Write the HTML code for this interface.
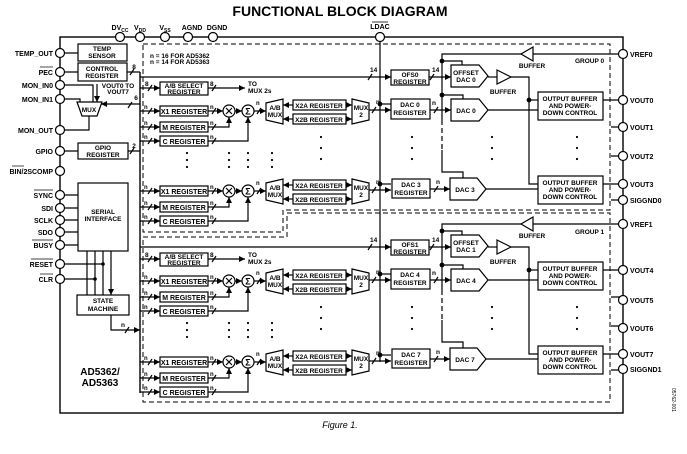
<!DOCTYPE html>
<html><head><meta charset="utf-8"><style>
html,body{margin:0;padding:0;background:#fff;}
svg{display:block;font-family:"Liberation Sans",sans-serif;font-weight:bold;}
</style></head><body>
<svg width="687" height="454" viewBox="0 0 687 454" xmlns="http://www.w3.org/2000/svg">
<defs>
<marker id="a" viewBox="0 0 6 6" refX="6" refY="3" markerWidth="5" markerHeight="5" orient="auto"><path d="M0,0L6,3L0,6z" fill="#000"/></marker>
<g id="row" stroke="#000" stroke-width="1.2" fill="none">
  <line x1="140" y1="111" x2="160" y2="111" marker-end="url(#a)"/>
  <line x1="140" y1="127" x2="160" y2="127" marker-end="url(#a)"/>
  <line x1="140" y1="141" x2="160" y2="141" marker-end="url(#a)"/>
  <path d="M148,114l4,-6M148,130l4,-6M148,144l4,-6"/>
  <rect x="160" y="106" width="48" height="10" fill="#fff"/>
  <rect x="160" y="122" width="48" height="10" fill="#fff"/>
  <rect x="160" y="136" width="48" height="10" fill="#fff"/>
  <line x1="208" y1="111" x2="223" y2="111" marker-end="url(#a)"/>
  <path d="M212,114l4,-6M212,130l4,-6M212,144l4,-6"/>
  <path d="M208,127H229V117" marker-end="url(#a)"/>
  <path d="M208,141H248V117" marker-end="url(#a)"/>
  <circle cx="229" cy="111" r="6" fill="#fff"/>
  <path d="M226,108l6,6M232,108l-6,6"/>
  <line x1="235" y1="111" x2="242" y2="111" marker-end="url(#a)"/>
  <circle cx="248" cy="111" r="6" fill="#fff"/>
  <line x1="254" y1="111" x2="266" y2="111" marker-end="url(#a)"/>
  <path d="M257,114l4,-6"/>
  <path d="M266,103L283,99V124L266,120z" fill="#fff"/>
  <line x1="293" y1="105" x2="283" y2="105" marker-end="url(#a)"/>
  <line x1="293" y1="119" x2="283" y2="119" marker-end="url(#a)"/>
  <rect x="293" y="100" width="53" height="10" fill="#fff"/>
  <rect x="293" y="114" width="53" height="10" fill="#fff"/>
  <line x1="346" y1="105" x2="352" y2="105" marker-end="url(#a)"/>
  <line x1="346" y1="119" x2="352" y2="119" marker-end="url(#a)"/>
  <path d="M352,99L369,103V120L352,124z" fill="#fff"/>
  <line x1="369" y1="110" x2="391" y2="110" marker-end="url(#a)"/>
  <path d="M372,113l4,-6"/>
  <line x1="380" y1="104" x2="391" y2="104"/>
  <circle cx="380" cy="104" r="1.8" fill="#000"/>
  <g stroke="none" fill="#000" font-size="7">
    <text x="184" y="114" text-anchor="middle">X1 REGISTER</text>
    <text x="184" y="130" text-anchor="middle">M REGISTER</text>
    <text x="184" y="144" text-anchor="middle">C REGISTER</text>
    <text x="248" y="114.5" text-anchor="middle" font-size="9">Σ</text>
    <text x="319" y="108" text-anchor="middle" font-size="6.5">X2A REGISTER</text>
    <text x="319" y="122" text-anchor="middle" font-size="6.5">X2B REGISTER</text>
    <text x="275" y="110" text-anchor="middle" font-size="6.5">A/B</text>
    <text x="275" y="117" text-anchor="middle" font-size="6.5">MUX</text>
    <text x="361" y="110" text-anchor="middle" font-size="6.5">MUX</text>
    <text x="361" y="117" text-anchor="middle" font-size="6.5">2</text>
    <text x="144" y="109" font-size="6">n</text><text x="144" y="125" font-size="6">n</text><text x="144" y="139" font-size="6">n</text>
    <text x="210" y="109" font-size="6">n</text><text x="210" y="125" font-size="6">n</text><text x="210" y="139" font-size="6">n</text>
    <text x="256" y="105" font-size="6">n</text><text x="376" y="104" font-size="6">n</text>
  </g>
</g>
<g id="abs" stroke="#000" stroke-width="1.2" fill="none">
  <line x1="140" y1="88" x2="160" y2="88" marker-end="url(#a)"/>
  <path d="M148,91l4,-6M212,91l4,-6"/>
  <rect x="160" y="82" width="48" height="13" fill="#fff"/>
  <line x1="208" y1="88" x2="245" y2="88" marker-end="url(#a)"/>
  <g stroke="none" fill="#000" font-size="6.5">
    <text x="184" y="88" text-anchor="middle">A/B SELECT</text>
    <text x="184" y="94" text-anchor="middle">REGISTER</text>
    <text x="145" y="86">8</text><text x="210" y="86">8</text>
    <text x="248" y="86">TO</text><text x="248" y="93">MUX 2s</text>
  </g>
</g>
<g id="grp" stroke="#000" stroke-width="1.2" fill="none">
  <line x1="140" y1="77" x2="391" y2="77" marker-end="url(#a)"/>
  <path d="M368,80l4,-6M430,80l4,-6"/>
  <rect x="391" y="70" width="38" height="15" fill="#fff"/>
  <line x1="429" y1="77" x2="451" y2="77" marker-end="url(#a)"/>
  <path d="M451,65H479L488,76L479,87H451z" fill="#fff"/>
  <path d="M497,70L511,77L497,84z" fill="#fff"/>
  <line x1="488" y1="77" x2="497" y2="77"/>
  <path d="M511,77H529V184H538"/>
  <line x1="529" y1="100" x2="538" y2="100"/>
  <circle cx="529" cy="100" r="1.8" fill="#000"/>
  <rect x="391" y="99" width="39" height="20" fill="#fff"/>
  <line x1="430" y1="110" x2="451" y2="110" marker-end="url(#a)"/>
  <path d="M434,113l4,-6"/>
  <path d="M451,99H479L488,110L479,121H451z" fill="#fff"/>
  <line x1="488" y1="110" x2="538" y2="110"/>
  <path d="M623,54H533"/>
  <path d="M533,47L521,54L533,61z" fill="#fff"/>
  <path d="M521,54H442V120M442,150V172H463V178M442,61H462V65M442,95H463V99"/>
  <path d="M442,120V150" stroke-dasharray="5,3"/>
  <circle cx="442" cy="61" r="1.8" fill="#000"/><circle cx="442" cy="95" r="1.8" fill="#000"/>
  <rect x="538" y="92" width="65" height="28" fill="#fff"/>
  <rect x="538" y="176" width="65" height="28" fill="#fff"/>
  <line x1="603" y1="100" x2="623" y2="100"/>
  <line x1="603" y1="184" x2="623" y2="184"/>
  <path d="M611,127H623M611,156H623M611,200H623"/>
  <rect x="392" y="179" width="38" height="19" fill="#fff"/>
  <line x1="430" y1="189" x2="450" y2="189" marker-end="url(#a)"/>
  <path d="M434,192l4,-6"/>
  <path d="M450,178H477L486,189L477,200H450z" fill="#fff"/>
  <line x1="486" y1="189" x2="538" y2="189"/>
  <g stroke="none" fill="#000" font-size="6.5">
    <text x="570" y="101" text-anchor="middle">OUTPUT BUFFER</text>
    <text x="570" y="108" text-anchor="middle">AND POWER-</text>
    <text x="570" y="115" text-anchor="middle">DOWN CONTROL</text>
    <text x="570" y="185" text-anchor="middle">OUTPUT BUFFER</text>
    <text x="570" y="192" text-anchor="middle">AND POWER-</text>
    <text x="570" y="199" text-anchor="middle">DOWN CONTROL</text>
    <text x="503" y="94" text-anchor="middle">BUFFER</text>
    <text x="532" y="68" text-anchor="middle">BUFFER</text>
    <text x="370" y="72">14</text><text x="432" y="72">14</text>
    <text x="432" y="105">n</text><text x="436" y="184">n</text>
  </g>
  <g stroke="none" fill="#000">
    <circle cx="412" cy="137" r="1.1"/><circle cx="412" cy="148" r="1.1"/><circle cx="412" cy="159" r="1.1"/>
    <circle cx="492" cy="137" r="1.1"/><circle cx="492" cy="148" r="1.1"/><circle cx="492" cy="159" r="1.1"/>
    <circle cx="577" cy="137" r="1.1"/><circle cx="577" cy="148" r="1.1"/><circle cx="577" cy="159" r="1.1"/>
    <circle cx="321" cy="137" r="1.1"/><circle cx="321" cy="148" r="1.1"/><circle cx="321" cy="159" r="1.1"/>
    <circle cx="187" cy="153" r="1.1"/><circle cx="187" cy="160" r="1.1"/><circle cx="187" cy="167" r="1.1"/>
    <circle cx="229" cy="153" r="1.1"/><circle cx="229" cy="160" r="1.1"/><circle cx="229" cy="167" r="1.1"/>
    <circle cx="248" cy="153" r="1.1"/><circle cx="248" cy="160" r="1.1"/><circle cx="248" cy="167" r="1.1"/>
    <circle cx="272" cy="153" r="1.1"/><circle cx="272" cy="160" r="1.1"/><circle cx="272" cy="167" r="1.1"/>
  </g>
</g>
</defs>

<text x="340" y="16" text-anchor="middle" font-size="14">FUNCTIONAL BLOCK DIAGRAM</text>

<!-- outer box -->
<rect x="60" y="37" width="563" height="376" fill="none" stroke="#000" stroke-width="1.4"/>
<!-- dashed groups -->
<g fill="none" stroke="#000" stroke-width="1" stroke-dasharray="5,3">
<path d="M143,44H610V210H283V232H143z"/>
<path d="M287,213H610V402H143V237H287z"/>
</g>
<!-- main bus -->
<line x1="140" y1="72" x2="140" y2="393" stroke="#000" stroke-width="1.4"/>
<line x1="380" y1="37" x2="380" y2="362" stroke="#000" stroke-width="1.2"/>

<use href="#abs"/>
<use href="#abs" transform="translate(0,171)"/>
<use href="#row"/>
<use href="#row" transform="translate(0,80)"/>
<use href="#row" transform="translate(0,170)"/>
<use href="#row" transform="translate(0,251)"/>
<use href="#grp"/>
<use href="#grp" transform="translate(0,170)"/>

<g font-size="6.5" text-anchor="middle">
<text x="410" y="77">OFS0</text><text x="410" y="84">REGISTER</text>
<text x="410" y="247">OFS1</text><text x="410" y="254">REGISTER</text>
<text x="466" y="75">OFFSET</text><text x="466" y="82">DAC 0</text>
<text x="466" y="245">OFFSET</text><text x="466" y="252">DAC 1</text>
<text x="410" y="107">DAC 0</text><text x="410" y="115">REGISTER</text>
<text x="410" y="277">DAC 4</text><text x="410" y="285">REGISTER</text>
<text x="411" y="187">DAC 3</text><text x="411" y="195">REGISTER</text>
<text x="411" y="357">DAC 7</text><text x="411" y="365">REGISTER</text>
<text x="466" y="113">DAC 0</text><text x="466" y="283">DAC 4</text>
<text x="465" y="192">DAC 3</text><text x="465" y="362">DAC 7</text>
</g>
<g font-size="6.5">
<text x="150" y="58">n = 16 FOR AD5362</text>
<text x="150" y="64">n = 14 FOR AD5363</text>
<text x="575" y="63">GROUP 0</text>
<text x="575" y="234">GROUP 1</text>
</g>

<!-- top pins -->
<g fill="#fff" stroke="#000" stroke-width="1.2">
<circle cx="120" cy="37" r="4.5"/><circle cx="140" cy="37" r="4.5"/><circle cx="165" cy="37" r="4.5"/>
<circle cx="188" cy="37" r="4.5"/><circle cx="213" cy="37" r="4.5"/><circle cx="380" cy="37" r="4.5"/>
</g>
<g font-size="7" text-anchor="middle">
<text x="120" y="30">DV<tspan font-size="5" dy="2">CC</tspan></text>
<text x="140" y="30">V<tspan font-size="5" dy="2">DD</tspan></text>
<text x="165" y="30">V<tspan font-size="5" dy="2">SS</tspan></text>
<text x="192" y="30">AGND</text><text x="217" y="30">DGND</text>
<text x="380" y="29">LDAC</text>
</g>
<line x1="372" y1="22" x2="388" y2="22" stroke="#000" stroke-width="0.8"/>

<!-- right pins -->
<g fill="#fff" stroke="#000" stroke-width="1.2">
<circle cx="623" cy="54" r="4.5"/><circle cx="623" cy="100" r="4.5"/><circle cx="623" cy="127" r="4.5"/>
<circle cx="623" cy="156" r="4.5"/><circle cx="623" cy="184" r="4.5"/><circle cx="623" cy="200" r="4.5"/>
<circle cx="623" cy="224" r="4.5"/><circle cx="623" cy="270" r="4.5"/><circle cx="623" cy="300" r="4.5"/>
<circle cx="623" cy="328" r="4.5"/><circle cx="623" cy="354" r="4.5"/><circle cx="623" cy="369" r="4.5"/>
</g>
<g font-size="7">
<text x="630" y="57">VREF0</text><text x="630" y="103">VOUT0</text><text x="630" y="130">VOUT1</text>
<text x="630" y="159">VOUT2</text><text x="630" y="187">VOUT3</text><text x="630" y="203">SIGGND0</text>
<text x="630" y="227">VREF1</text><text x="630" y="273">VOUT4</text><text x="630" y="303">VOUT5</text>
<text x="630" y="331">VOUT6</text><text x="630" y="357">VOUT7</text><text x="630" y="372">SIGGND1</text>
</g>

<!-- left side -->
<g fill="none" stroke="#000" stroke-width="1.2">
<path d="M60,53H78M60,72H78M60,85H93V102M60,99H80V102M89,116V130H60M60,151H78"/>
<path d="M60,195H78M60,208H78M60,220H78M60,232H78M60,245H78M60,264H103M60,279H95"/>
<path d="M87,251V295M95,251V295M103,251V295"/>
<path d="M111,251V295" marker-end="url(#a)"/>
<path d="M111,315V330H140" marker-end="url(#a)"/>
<path d="M125,333l4,-6M130,75l4,-6M130,154l4,-6M128,108l4,-6"/>
<line x1="140" y1="104" x2="101" y2="104" marker-end="url(#a)"/>
<path d="M97,84V102" marker-end="url(#a)"/>
<path d="M127,72H140M128,151H140"/>
<rect x="78" y="44" width="49" height="17" fill="#fff"/>
<rect x="78" y="63" width="49" height="18" fill="#fff"/>
<rect x="78" y="143" width="50" height="16" fill="#fff"/>
<rect x="78" y="183" width="50" height="68" fill="#fff"/>
<rect x="77" y="295" width="52" height="20" fill="#fff"/>
<path d="M77,102H102L97,116H82z" fill="#fff"/>
</g>
<circle cx="103" cy="264" r="1.8"/><circle cx="95" cy="279" r="1.8"/>
<g fill="#fff" stroke="#000" stroke-width="1.2">
<circle cx="60" cy="53" r="4.5"/><circle cx="60" cy="72" r="4.5"/><circle cx="60" cy="85" r="4.5"/>
<circle cx="60" cy="99" r="4.5"/><circle cx="60" cy="130" r="4.5"/><circle cx="60" cy="151" r="4.5"/>
<circle cx="60" cy="171" r="4.5"/><circle cx="60" cy="195" r="4.5"/><circle cx="60" cy="208" r="4.5"/>
<circle cx="60" cy="220" r="4.5"/><circle cx="60" cy="232" r="4.5"/><circle cx="60" cy="245" r="4.5"/>
<circle cx="60" cy="264" r="4.5"/><circle cx="60" cy="279" r="4.5"/>
</g>
<g font-size="7" text-anchor="end">
<text x="53" y="56">TEMP_OUT</text><text x="53" y="75">PEC</text><text x="53" y="88">MON_IN0</text>
<text x="53" y="102">MON_IN1</text><text x="53" y="133">MON_OUT</text><text x="53" y="154">GPIO</text>
<text x="53" y="174">BIN/2SCOMP</text><text x="53" y="198">SYNC</text><text x="53" y="211">SDI</text>
<text x="53" y="223">SCLK</text><text x="53" y="235">SDO</text><text x="53" y="248">BUSY</text>
<text x="53" y="267">RESET</text><text x="53" y="282">CLR</text>
</g>
<g stroke="#000" stroke-width="0.7">
<line x1="40" y1="67" x2="53" y2="67"/><line x1="12" y1="166" x2="24" y2="166"/>
<line x1="34" y1="190" x2="53" y2="190"/><line x1="32" y1="240" x2="53" y2="240"/>
<line x1="31" y1="259" x2="53" y2="259"/><line x1="40" y1="274" x2="53" y2="274"/>
</g>
<g font-size="6.5" text-anchor="middle">
<text x="102" y="51">TEMP</text><text x="102" y="58">SENSOR</text>
<text x="102" y="71">CONTROL</text><text x="102" y="78">REGISTER</text>
<text x="103" y="150">GPIO</text><text x="103" y="157">REGISTER</text>
<text x="103" y="214">SERIAL</text><text x="103" y="221">INTERFACE</text>
<text x="103" y="303">STATE</text><text x="103" y="311">MACHINE</text>
<text x="89" y="112">MUX</text>
<text x="118" y="88">VOUT0 TO</text><text x="118" y="94">VOUT7</text>
<text x="134" y="69">8</text><text x="136" y="100">6</text><text x="134" y="148">2</text><text x="123" y="327">n</text>
</g>
<text x="100" y="375" text-anchor="middle" font-size="10">AD5362/</text>
<text x="100" y="386" text-anchor="middle" font-size="10">AD5363</text>

<text x="340" y="428" text-anchor="middle" font-size="9" font-weight="normal" font-style="italic">Figure 1.</text>
<text transform="translate(672,388) rotate(90)" font-size="5" font-weight="normal">05762-001</text>
</svg>
</body></html>
